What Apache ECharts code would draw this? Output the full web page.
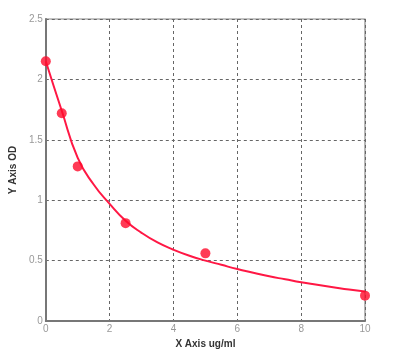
<!DOCTYPE html>
<html>
<head>
<meta charset="utf-8">
<script src="https://cdn.jsdelivr.net/npm/echarts@6/dist/echarts.min.js"></script>
<style>html,body{margin:0;padding:0;background:#fff}#c{width:410px;height:356px}</style>
</head>
<body>
<div id="c"></div>
<script>
var pointX = [0, 0.5, 1, 2.5, 5, 10];
var pointY = [2.15, 1.72, 1.28, 0.81, 0.56, 0.21];
var curveX = [0, 0.5, 1, 1.5, 2, 2.5, 3, 3.5, 4, 4.5, 5, 5.5, 6, 6.5, 7, 7.5, 8, 8.5, 9, 9.5, 10];
var curveY = [2.15, 1.74, 1.35, 1.13, 0.97, 0.83, 0.73, 0.65, 0.59, 0.54, 0.50, 0.465, 0.43, 0.40, 0.37, 0.345, 0.32, 0.30, 0.28, 0.26, 0.245];
var xTicks = ['0', '2', '4', '6', '8', '10'];
var yTicks = ['0', '0.5', '1', '1.5', '2', '2.5'];

var chart = echarts.init(document.getElementById('c'), null, {renderer: 'canvas'});
var font = 'Liberation Sans, Arial, sans-serif';
chart.setOption({
  animation: false,
  backgroundColor: '#fff',
  grid: {left: 43, right: 45, top: 19, bottom: 35, show: true, borderColor: '#888', borderWidth: 1.2},
  xAxis: {
    type: 'value', min: 0, max: 10, interval: 2,
    name: 'X Axis ug/ml', nameLocation: 'middle', nameGap: 16,
    nameTextStyle: {fontFamily: font, fontSize: 10, fontWeight: 'bold', color: '#333'},
    axisLine: {show: true, lineStyle: {color: '#777', width: 2}},
    axisTick: {show: false},
    axisLabel: {fontFamily: font, fontSize: 10, color: '#999', margin: 3,
      formatter: function (v) { return xTicks[Math.round(v / 2)]; }},
    splitLine: {show: true, lineStyle: {color: '#666', type: [3, 3], width: 1}}
  },
  yAxis: {
    type: 'value', min: 0, max: 2.5, interval: 0.5,
    name: 'Y Axis OD', nameLocation: 'middle', nameGap: 17, nameRotate: 90,
    nameTextStyle: {fontFamily: font, fontSize: 10, fontWeight: 'bold', color: '#333'},
    axisLine: {show: true, lineStyle: {color: '#777', width: 2}},
    axisTick: {show: false},
    axisLabel: {fontFamily: font, fontSize: 10, color: '#999', margin: 3,
      formatter: function (v) { return yTicks[Math.round(v / 0.5)]; }},
    splitLine: {show: true, lineStyle: {color: '#666', type: [3, 3], width: 1}}
  },
  series: [
    {
      type: 'line', smooth: 0.5, symbol: 'none',
      data: curveX.map(function (x, i) { return [x, curveY[i]]; }),
      lineStyle: {color: '#ff1744', width: 2}
    },
    {
      type: 'scatter', symbol: 'circle', symbolSize: 10,
      data: pointX.map(function (x, i) { return [x, pointY[i]]; }),
      itemStyle: {color: '#ff0a2a'}, z: 5
    }
  ]
});
</script>
</body>
</html>
